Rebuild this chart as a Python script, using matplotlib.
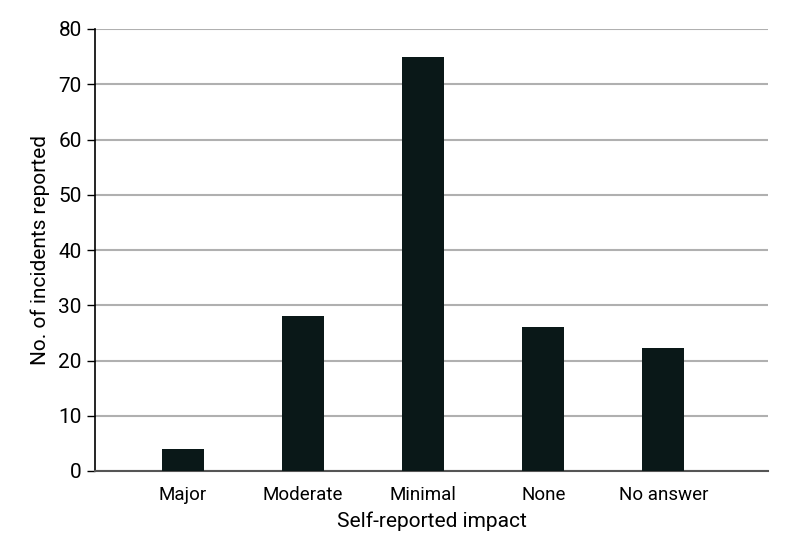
import matplotlib
matplotlib.use('Agg')
import matplotlib.pyplot as plt

categories = ['Major', 'Moderate', 'Minimal', 'None', 'No answer']
incidents = [4, 28, 75, 26, 22.3]
y_ticks = [0, 10, 20, 30, 40, 50, 60, 70, 80]

plt.rcParams['font.family'] = ['Roboto', 'DejaVu Sans']

fig = plt.figure(figsize=(7.94, 5.53), dpi=100)
ax = fig.add_axes([95 / 794, 1 - 471 / 553, (768 - 95) / 794, (471 - 29) / 553])

x = list(range(len(categories)))
ax.bar(x, incidents, width=0.35, color='#0a1818', zorder=3)

ax.set_ylim(0, 80)
ax.set_xlim(-0.73, 4.87)
ax.set_yticks(y_ticks)
ax.set_xticks(x)
ax.set_xticklabels(categories, fontsize=13.5)
ax.tick_params(axis='y', labelsize=15, length=6, width=1, color='black')
ax.tick_params(axis='x', length=0, pad=11)

ax.yaxis.grid(True, color='#b0b0b0', linewidth=1.5, zorder=0)
ax.set_axisbelow(True)

for s in ['top', 'right']:
    ax.spines[s].set_visible(False)
ax.spines['left'].set_linewidth(1.2)
ax.spines['bottom'].set_color('#555555')
ax.spines['bottom'].set_linewidth(1.5)

ax.set_xlabel('Self-reported impact', fontsize=15, labelpad=5)
ax.set_ylabel('No. of incidents reported', fontsize=15, labelpad=6)

fig.savefig('out.png', dpi=100)
